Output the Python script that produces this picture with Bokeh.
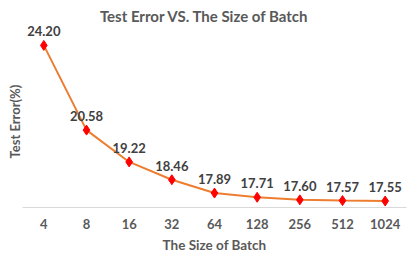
from bokeh.plotting import figure
from bokeh.models import ColumnDataSource, LabelSet, Label, Title
from bokeh.core.properties import value
from bokeh.embed import file_html
from bokeh.resources import INLINE

batch_sizes = ["4", "8", "16", "32", "64", "128", "256", "512", "1024"]
test_error = [24.20, 20.58, 19.22, 18.46, 17.89, 17.71, 17.60, 17.57, 17.55]
error_labels = [f"{v:.2f}" for v in test_error]

FONT = "Lato"
GREY = "#595959"
Y_MIN, Y_MAX = 17.273, 26.118
src = ColumnDataSource(dict(x=batch_sizes, y=test_error, lab=error_labels))

p = figure(width=416, height=267, x_range=batch_sizes, y_range=(Y_MIN, Y_MAX),
           output_backend="svg", toolbar_location=None,
           min_border_left=22, min_border_right=10, min_border_top=0, min_border_bottom=60)
p.outline_line_color = None
p.xgrid.grid_line_color = None
p.ygrid.grid_line_color = None
p.background_fill_color = "white"
p.border_fill_color = "white"
p.yaxis.visible = False

xa = p.xaxis[0]
xa.axis_line_color = "#d9d9d9"
xa.major_tick_line_color = None
xa.minor_tick_line_color = None
xa.major_tick_out = 0
xa.major_label_text_font = FONT
xa.major_label_text_font_size = "13px"
xa.major_label_text_font_style = "bold"
xa.major_label_text_color = GREY
xa.major_label_standoff = 11
xa.axis_label = "The Size of Batch"
xa.axis_label_text_font = FONT
xa.axis_label_text_font_size = "13.5px"
xa.axis_label_text_font_style = "bold"
xa.axis_label_text_color = GREY
xa.axis_label_standoff = 5

ytitle = Title(text="Test Error(%)", align="left", offset=49, standoff=0,
               text_font=FONT, text_font_size="13px", text_font_style="bold",
               text_color=GREY)
p.add_layout(ytitle, "left")

p.line("x", "y", source=src, line_color="#ED7D31", line_width=2)
p.scatter("x", "y", source=src, marker="diamond", size=10,
          fill_color="#FF0000", line_color="#FF0000")
labels = LabelSet(x="x", y="y", text="lab", source=src, y_offset=14,
                  text_align="center", text_baseline="middle",
                  text_font=value(FONT), text_font_size="13px", text_font_style="bold",
                  text_color="#404040")
p.add_layout(labels)

main_title = Label(x=len(batch_sizes) / 2, y=Y_MAX, x_offset=-10, y_offset=-15,
                   text="Test Error VS. The Size of Batch",
                   text_align="center", text_baseline="middle",
                   text_font=FONT, text_font_size="15px", text_font_style="bold",
                   text_color=GREY)
p.add_layout(main_title)

open("out.html", "w").write(file_html(p, INLINE))
